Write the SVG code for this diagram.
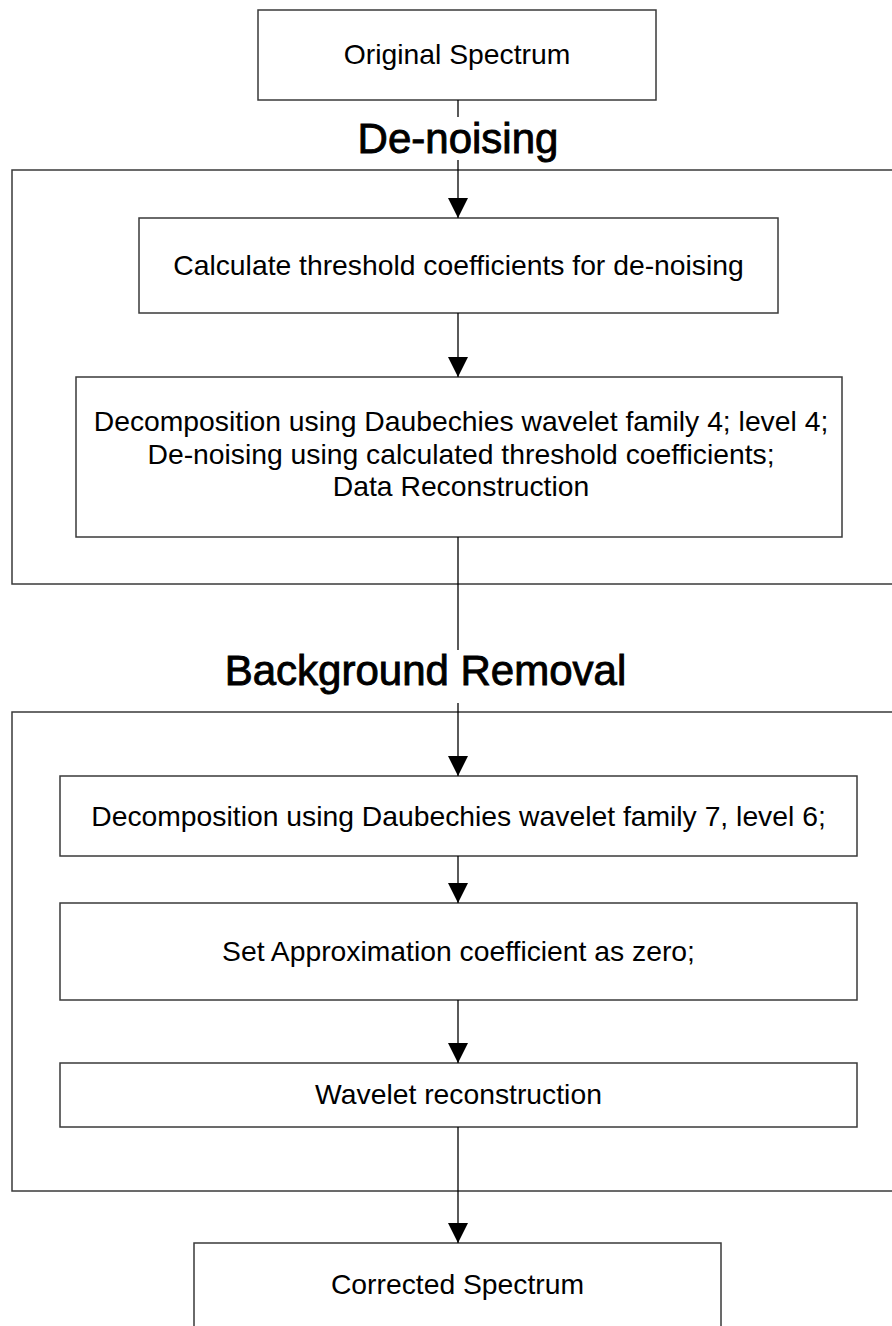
<svg xmlns="http://www.w3.org/2000/svg" width="892" height="1326" viewBox="0 0 892 1326">
  <style>
    .box { fill: #ffffff; stroke: #3a3a3a; stroke-width: 1.5; }
    .frame { fill: none; stroke: #3a3a3a; stroke-width: 1.5; }
    .lbl { font-family: "Liberation Sans", Arial, sans-serif; font-size: 28.3px; fill: #000; text-anchor: middle; }
    .head { font-family: "Liberation Sans", Arial, sans-serif; font-size: 42px; fill: #000; stroke: #000; stroke-width: 0.9; text-anchor: middle; }
    .conn { stroke: #000; stroke-width: 1.3; fill: none; }
  </style>
  <defs>
    <marker id="arr" markerUnits="userSpaceOnUse" markerWidth="20" markerHeight="20" refX="20" refY="10" orient="auto" viewBox="0 0 20 20">
      <path d="M0,0 L20,10 L0,20 z" fill="#000"/>
    </marker>
  </defs>
  <rect width="892" height="1326" fill="#ffffff"/>

  <g id="denoising-group">
    <rect class="frame" x="12" y="170" width="900" height="414"/>
    <text class="head" x="458" y="153">De-noising</text>
  </g>
  <g id="background-group">
    <rect class="frame" x="12" y="712" width="900" height="479"/>
    <text class="head" x="425.5" y="685">Background Removal</text>
  </g>

  <g id="original">
    <rect class="box" x="258" y="10" width="398" height="90"/>
    <text class="lbl" x="457" y="64">Original Spectrum</text>
  </g>
  <g id="calc">
    <rect class="box" x="139" y="218" width="639" height="95"/>
    <text class="lbl" x="458.5" y="275">Calculate threshold coefficients for de-noising</text>
  </g>
  <g id="decomp4">
    <rect class="box" x="76" y="377" width="766" height="160"/>
    <text class="lbl" x="461" y="431">Decomposition using Daubechies wavelet family 4; level 4;</text>
    <text class="lbl" x="461" y="464">De-noising using calculated threshold coefficients;</text>
    <text class="lbl" x="461" y="496">Data Reconstruction</text>
  </g>
  <g id="decomp7">
    <rect class="box" x="60" y="776" width="797" height="80"/>
    <text class="lbl" x="458.5" y="826">Decomposition using Daubechies wavelet family 7, level 6;</text>
  </g>
  <g id="approx">
    <rect class="box" x="60" y="903" width="797" height="97"/>
    <text class="lbl" x="458.5" y="961">Set Approximation coefficient as zero;</text>
  </g>
  <g id="recon">
    <rect class="box" x="60" y="1063" width="797" height="64"/>
    <text class="lbl" x="458.5" y="1104">Wavelet reconstruction</text>
  </g>
  <g id="corrected">
    <rect class="box" x="194" y="1243" width="527" height="100"/>
    <text class="lbl" x="457.5" y="1294">Corrected Spectrum</text>
  </g>

  <g id="connectors">
    <line class="conn" x1="458" y1="100" x2="458" y2="117"/>
    <line class="conn" x1="458" y1="160" x2="458" y2="218" marker-end="url(#arr)"/>
    <line class="conn" x1="458" y1="313" x2="458" y2="377" marker-end="url(#arr)"/>
    <line class="conn" x1="458" y1="537" x2="458" y2="650"/>
    <line class="conn" x1="458" y1="703" x2="458" y2="776" marker-end="url(#arr)"/>
    <line class="conn" x1="458" y1="856" x2="458" y2="903" marker-end="url(#arr)"/>
    <line class="conn" x1="458" y1="1000" x2="458" y2="1063" marker-end="url(#arr)"/>
    <line class="conn" x1="458" y1="1127" x2="458" y2="1243" marker-end="url(#arr)"/>
  </g>
</svg>
